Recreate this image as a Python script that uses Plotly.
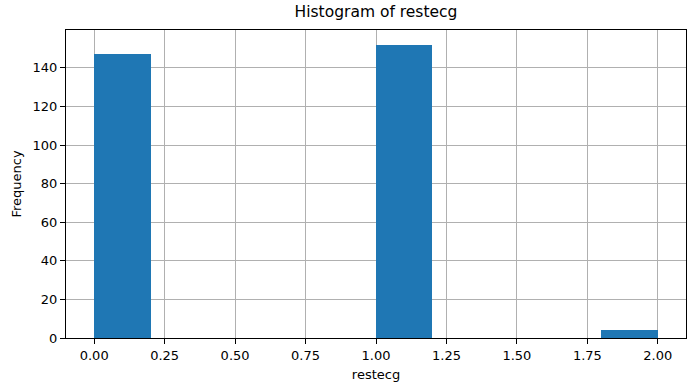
import plotly.graph_objects as go

bin_edges = [0.0, 0.2, 0.4, 0.6, 0.8, 1.0, 1.2, 1.4, 1.6, 1.8, 2.0]
counts = [147, 0, 0, 0, 0, 152, 0, 0, 0, 4]
x_ticks = [0.0, 0.25, 0.5, 0.75, 1.0, 1.25, 1.5, 1.75, 2.0]
x_tick_labels = ["0.00", "0.25", "0.50", "0.75", "1.00", "1.25", "1.50", "1.75", "2.00"]
y_ticks = [0, 20, 40, 60, 80, 100, 120, 140]

centers = [(bin_edges[i] + bin_edges[i + 1]) / 2 for i in range(len(counts))]
widths = [bin_edges[i + 1] - bin_edges[i] for i in range(len(counts))]

fig = go.Figure(go.Bar(
    x=centers, y=counts, width=widths,
    marker=dict(color="#1f77b4", line=dict(width=0)),
    hoverinfo="x+y",
))

font = dict(family="DejaVu Sans", size=13, color="black")
axis_common = dict(
    showline=True, linecolor="black", linewidth=1, mirror=True,
    ticks="outside", ticklen=5, tickwidth=1, tickcolor="black",
    showgrid=True, gridcolor="#b0b0b0", gridwidth=1,
    zeroline=False, layer="above traces", tickfont=font, automargin=False,
)

fig.update_layout(
    width=695, height=391,
    paper_bgcolor="white", plot_bgcolor="white",
    margin=dict(l=66, r=9, t=30, b=53, autoexpand=False),
    title=dict(text="Histogram of restecg", x=0.5, xref="paper", xanchor="center",
               y=1 - 12 / 391, yanchor="middle",
               font=dict(family="DejaVu Sans", size=15.5, color="black")),
    xaxis=dict(range=[-0.1, 2.1], tickvals=x_ticks, ticktext=x_tick_labels,
               title=dict(text="restecg", font=font, standoff=8), **axis_common),
    yaxis=dict(range=[0, 159.6], tickvals=y_ticks,
               title=dict(text="Frequency", font=font, standoff=8), **axis_common),
    showlegend=False,
    bargap=0,
)

fig.write_html("out.html", config={"displayModeBar": False},
               post_script="document.body.style.margin='0';")
